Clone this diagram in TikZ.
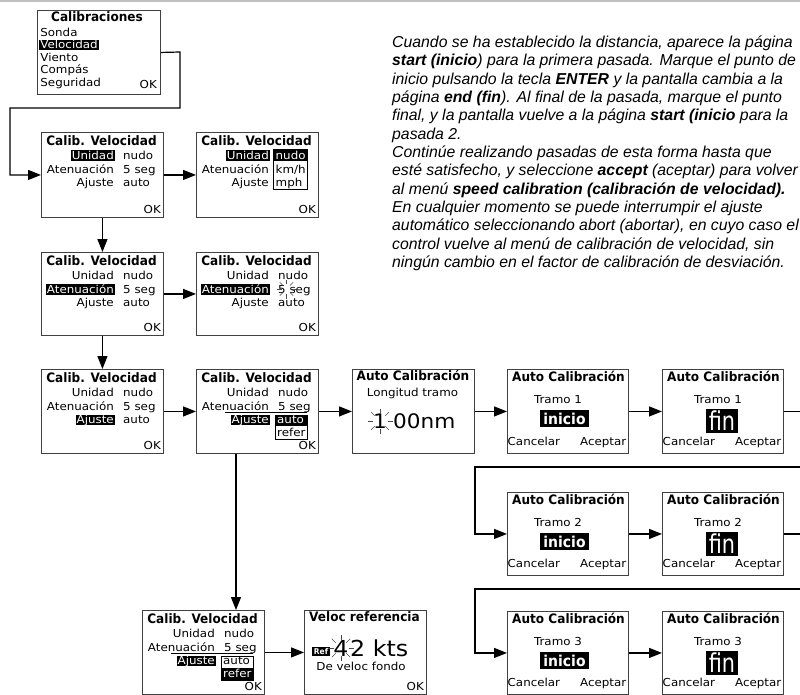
\documentclass[tikz,border=0pt]{standalone}
\usepackage{fontspec}
\setmainfont{Liberation Sans}
\newfontfamily\lcd[FakeStretch=1.08]{DejaVu Sans}
\newfontfamily\lcdb[FakeStretch=0.93]{DejaVu Sans}
\newfontfamily\lcdn[FakeStretch=0.8]{DejaVu Sans}
\usetikzlibrary{arrows.meta,calc}
\tikzset{
 scr/.style={draw=black!75, line width=0.9pt, fill=white, anchor=north west, inner sep=0pt},
 ttl/.style={font=\lcdb\bfseries\fontsize{13}{13}\selectfont, inner sep=0pt, anchor=base},
 lab/.style={font=\lcd\fontsize{11}{11}\selectfont, inner xsep=1pt, inner ysep=1pt, text height=8pt, text depth=0.5pt, anchor=base east},
 val/.style={lab, anchor=base west},
 hl/.style={fill=black, text=white},
 ok/.style={font=\lcd\fontsize{11}{11}\selectfont, inner sep=0pt, anchor=base east},
 ctr/.style={font=\lcd\fontsize{11}{11}\selectfont, inner sep=0pt, anchor=base},
 para/.style={font=\itshape\fontsize{15.8}{18}\selectfont, inner sep=0pt, anchor=base west},
 con/.style={line width=1.2pt},
 arr/.style={line width=1.2pt, -{Triangle[length=13pt,width=10pt]}},
 ray/.style={line width=0.5pt, black!70},
}
\newcommand\calib[5]{%
 \node[scr, minimum width=122pt, minimum height=#4pt] (#1) at (#2,#3) {};
 \begin{scope}[shift={(#2,#3)}]
  \node[ttl] (#1-t) at (60.5,13) {Calib. Velocidad};
  \node[ok] (#1-ok) at (120,#4-4) {OK};
  #5
 \end{scope}}
\newcommand\lbls[4]{%
 \node[lab,#2] (#1-l1) at (74,27.3) {Unidad};
 \node[lab,#3] (#1-l2) at (74,41) {Atenuación};
 \node[lab,#4] (#1-l3) at (74,54.5) {Ajuste};}
\newcommand\rays[4]{%
 \foreach \a in {0,45,...,315} \draw[ray,shift={(#1,#2)}] (\a:#3) -- (\a:#4);}
\newcommand\tramoI[5]{%
 \node[scr, minimum width=121pt, minimum height=#4pt] (#1) at (#2,#3) {};
 \begin{scope}[shift={(#2,#3)}]
  \node[ttl] (#1-t) at (61.5,12.7) {Auto Calibración};
  \node[ctr] (#1-n) at (51,34.3) {Tramo #5};
  \node[fill=black,text=white,inner sep=0pt,minimum width=49pt,minimum height=17.3pt,font=\lcdb\bfseries\fontsize{15}{15}\selectfont] (#1-s) at (57.5,49.7) {inicio};
  \node[ok, anchor=base west] (#1-c) at (0.5,#4-7.3) {Cancelar};
  \node[ok] (#1-a) at (119.5,#4-7.3) {Aceptar};
 \end{scope}}
\newcommand\tramoF[5]{%
 \node[scr, minimum width=121pt, minimum height=#4pt] (#1) at (#2,#3) {};
 \begin{scope}[shift={(#2,#3)}]
  \node[ttl] (#1-t) at (61.5,12.7) {Auto Calibración};
  \node[ctr] (#1-n) at (56,34.3) {Tramo #5};
  \node[fill=black,text=white,inner sep=0pt,minimum width=32pt,minimum height=24pt,font=\lcdn\fontsize{26}{26}\selectfont] (#1-s) at (60,52) {fin};
  \node[ok, anchor=base west] (#1-c) at (0.5,#4-7.3) {Cancelar};
  \node[ok] (#1-a) at (119.5,#4-7.3) {Aceptar};
 \end{scope}}
\begin{document}
\begin{tikzpicture}[x=1pt,y=-1pt]
\useasboundingbox (0,0) rectangle (800,694);
\clip (0,0) rectangle (800,694);
\fill[black!25] (0,0) rectangle (800,2);

% menu
\node[scr, minimum width=123pt, minimum height=84pt] (m) at (37,10) {};
\begin{scope}[shift={(37,10)}]
 \node[ttl] (m-t) at (60,11.7) {Calibraciones};
 \node[val] (m-1) at (2.2,26) {Sonda};
 \node[val,hl] (m-2) at (2.2,38.5) {Velocidad};
 \node[val] (m-3) at (2.2,51) {Viento};
 \node[val] (m-4) at (2.2,63.5) {Compás};
 \node[val] (m-5) at (2.2,76) {Seguridad};
 \node[ok] (m-ok) at (120,78) {OK};
\end{scope}

% calib screens
\calib{c1}{41}{132}{85}{%
 \lbls{c1}{hl}{}{}
 \node[val] (c1-v1) at (81,27.3) {nudo};
 \node[val] (c1-v2) at (81,41) {5 seg};
 \node[val] (c1-v3) at (81,54.5) {auto};}
\calib{c2}{196}{132}{85}{%
 \lbls{c2}{hl}{}{}
 \draw[line width=0.8pt] (77,17) rectangle (111,57);
 \fill (77,17) rectangle (111,28.5);
 \node[val,text=white] (c2-v1) at (78.5,27.3) {nudo};
 \node[val] (c2-v2) at (78.5,41) {km/h};
 \node[val] (c2-v3) at (78.5,54.5) {mph};}
\calib{c3}{41}{252}{83}{%
 \lbls{c3}{}{hl}{}
 \node[val] (c3-v1) at (81,27.3) {nudo};
 \node[val] (c3-v2) at (81,41) {5 seg};
 \node[val] (c3-v3) at (81,54.5) {auto};}
\calib{c4}{196}{252}{83}{%
 \lbls{c4}{}{hl}{}
 \node[val] (c4-v1) at (81,27.3) {nudo};
 \node[val] (c4-v2) at (81,41) {5 seg};
 \node[val] (c4-v3) at (81,54.5) {auto};
 \rays{90.5}{37}{5}{9.5}}
\calib{c5}{41}{369}{84}{%
 \lbls{c5}{}{}{hl}
 \node[val] (c5-v1) at (81,27.3) {nudo};
 \node[val] (c5-v2) at (81,41) {5 seg};
 \node[val] (c5-v3) at (81,54.5) {auto};}
\calib{c6}{196}{369}{84}{%
 \lbls{c6}{}{}{hl}
 \draw[line width=0.5pt] (29,43.3) -- (111,43.3);
 \node[val] (c6-v1) at (81,27.3) {nudo};
 \node[val] (c6-v2) at (81,41) {5 seg};
 \draw[line width=0.8pt] (79,46.5) rectangle (111,70);
 \fill (79,46.5) rectangle (111,57);
 \node[val,text=white] (c6-v3) at (80,54.5) {auto};
 \node[val] (c6-v4) at (80,67.5) {refer};}
\calib{b1}{142}{610}{84}{%
 \lbls{b1}{}{}{hl}
 \draw[line width=0.5pt] (29,43.3) -- (111,43.3);
 \node[val] (b1-v1) at (81,27.3) {nudo};
 \node[val] (b1-v2) at (81,41) {5 seg};
 \draw[line width=0.8pt] (79,46.5) rectangle (111,70);
 \fill (79,58) rectangle (111,70);
 \node[val] (b1-v3) at (80,54.5) {auto};
 \node[val,text=white] (b1-v4) at (80,67.5) {refer};}

% auto calibracion - longitud
\node[scr, minimum width=122pt, minimum height=84pt] (a0) at (352,369) {};
\begin{scope}[shift={(352,369)}]
 \node[ttl] (a0-t) at (61,11) {Auto Calibración};
 \node[ctr] (a0-l) at (60.5,27.7) {Longitud tramo};
 \node[font=\lcd\fontsize{20}{20}\selectfont, inner sep=0pt, anchor=base] (a0-1) at (28,59.3) {1};
 \node[font=\lcd\fontsize{20}{20}\selectfont, inner sep=0pt, anchor=base west] (a0-2) at (41,59.3) {00nm};
 \rays{28}{52}{7.5}{12.5}
\end{scope}

% tramo screens
\tramoI{t1s}{507}{369}{84}{1}
\tramoF{t1f}{662}{369}{84}{1}
\tramoI{t2s}{507}{492}{83}{2}
\tramoF{t2f}{662}{492}{83}{2}
\tramoI{t3s}{507}{611}{83}{3}
\tramoF{t3f}{662}{611}{83}{3}

% veloc referencia
\node[scr, minimum width=122pt, minimum height=84pt] (v) at (304,610) {};
\begin{scope}[shift={(304,610)}]
 \node[ttl] (v-t) at (60.5,11.5) {Veloc referencia};
 \node[fill=black,text=white,inner sep=0pt,minimum width=18pt,minimum height=9.3pt,font=\lcdb\bfseries\fontsize{8}{8}\selectfont] (v-r) at (17,41.3) {Ref};
 \node[font=\lcd\fontsize{22}{22}\selectfont, inner sep=0pt, anchor=base] (v-4) at (37,46) {4};
 \node[font=\lcd\fontsize{22}{22}\selectfont, inner sep=0pt, anchor=base west] (v-2) at (46,46) {2 kts};
 \rays{37}{38}{7.5}{13}
 \node[ctr] (v-d) at (57,60) {De veloc fondo};
 \node[ok] (v-ok) at (120,80) {OK};
\end{scope}

% connectors
\coordinate (vx) at (236,0);
\draw[arr] (m.east) -- (180,52) -- (180,108) -- (10,108) |- (c1.west);
\draw[arr] (c1.east) -- (c2.west);
\draw[arr] (c1.south) -- (c3.north);
\draw[arr] (c3.east) -- (c4.west);
\draw[arr] (c3.south) -- (c5.north);
\draw[arr] (c5.east) -- (c6.west);
\draw[arr] (c6.east) -- (a0.west);
\draw[arr] (a0.east) -- (t1s.west);
\draw[arr] (t1s.east) -- (t1f.west);
\draw[arr] (t1f.east) -- ++(30,0) |- (475,467) |- (t2s.west);
\draw[arr] (t2s.east) -- (t2f.west);
\draw[arr] (t2f.east) -- ++(30,0) |- (475,589) |- (t3s.west);
\draw[arr] (t3s.east) -- (t3f.west);
\draw[arr] (c6.south -| vx) -- (b1.north -| vx);
\draw[arr] (b1.east) -- (v.west);

% paragraph
\node[para] (p1) at (392,47.3) {Cuando se ha establecido la distancia, aparece la página};
\node[para] (p2) at (392,65.65) {\textbf{start (inicio}) para la primera pasada. Marque el punto de};
\node[para] (p3) at (392,84) {inicio pulsando la tecla \textbf{ENTER} y la pantalla cambia a la};
\node[para] (p4) at (392,102.35) {página \textbf{end (fin}). Al final de la pasada, marque el punto};
\node[para] (p5) at (392,120.7) {final, y la pantalla vuelve a la página \textbf{start (inicio} para la};
\node[para] (p6) at (392,139.05) {pasada 2.};
\node[para] (p7) at (392,157.4) {Continúe realizando pasadas de esta forma hasta que};
\node[para] (p8) at (392,175.75) {esté satisfecho, y seleccione \textbf{accept} (aceptar) para volver};
\node[para] (p9) at (392,194.1) {al menú \textbf{speed calibration (calibración de velocidad).}};
\node[para] (p10) at (392,212.45) {En cualquier momento se puede interrumpir el ajuste};
\node[para] (p11) at (392,230.8) {automático seleccionando abort (abortar), en cuyo caso el};
\node[para] (p12) at (392,249.15) {control vuelve al menú de calibración de velocidad, sin};
\node[para] (p13) at (392,267.5) {ningún cambio en el factor de calibración de desviación.};
\end{tikzpicture}
\end{document}
